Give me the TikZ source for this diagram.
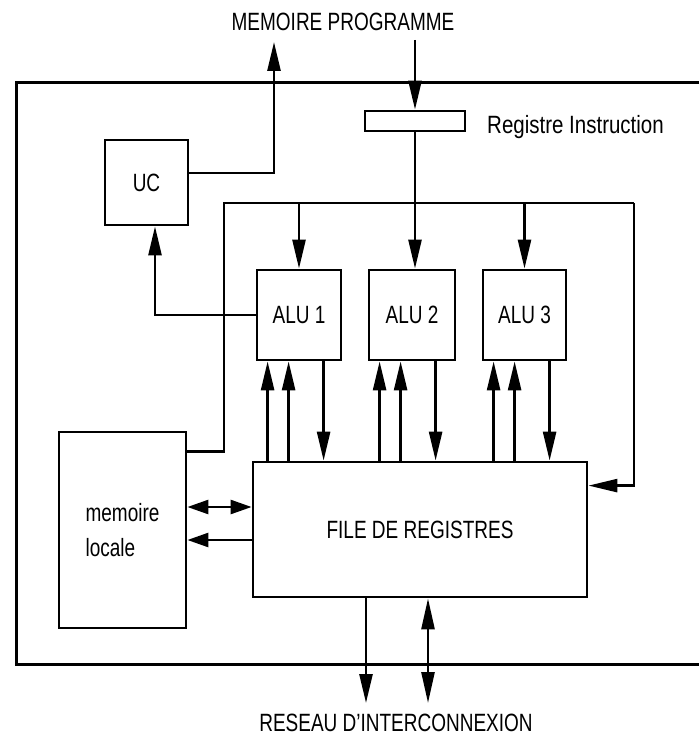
\documentclass[tikz,border=0pt]{standalone}
\usepackage{fontspec}
\setmainfont{Liberation Sans}[FakeStretch=0.76]
\newfontfamily\rifont{Liberation Sans}[FakeStretch=0.82]
\usetikzlibrary{arrows.meta,calc}
\begin{document}
\begin{tikzpicture}[x=1pt,y=-1pt,
  every node/.style={font=\fontsize{25}{35}\selectfont, inner sep=0pt},
  box/.style={draw, line width=2.8pt},
  frame/.style={line width=3pt},
  wire/.style={line width=2.6pt},
  arr/.style={wire, -{Triangle[length=29pt,width=13pt]}},
  darr/.style={wire, {Triangle[length=31pt,width=13pt]}-{Triangle[length=31pt,width=13pt]}},
  harr/.style={wire, -{Triangle[length=21pt,width=14pt]}},
  hdarr/.style={wire, {Triangle[length=21pt,width=14pt]}-{Triangle[length=21pt,width=14pt]}}]
\useasboundingbox (0,0) rectangle (699,738);
% open frame
\draw[frame] (699,83) -- (16,83) -- (16,664) -- (699,664);
% boxes
\node[box, minimum width=83pt, minimum height=85pt] (UC) at (146.5,182.5) {UC};
\node[box, minimum width=100pt, minimum height=20pt] (RI) at (415,121) {};
\node[anchor=west, font=\fontsize{25}{35}\rifont] (RIl) at (487,127) {Registre Instruction};
\node (MP) at (343,22) {MEMOIRE PROGRAMME};
\node[box, minimum width=84pt, minimum height=90pt] (ALU1) at (299,315) {ALU 1};
\node[box, minimum width=86pt, minimum height=90pt] (ALU2) at (412,315) {ALU 2};
\node[box, minimum width=83pt, minimum height=90pt] (ALU3) at (524.5,315) {ALU 3};
\node[box, minimum width=334pt, minimum height=135pt] (FR) at (420,529.5) {FILE DE REGISTRES};
\node[box, minimum width=127pt, minimum height=196pt, align=left] (ML) at (122.5,530) {memoire\\locale};
\node (RS) at (396,723) {RESEAU D'INTERCONNEXION};
% coordinates
\coordinate (mpA) at (274,42);
\coordinate (mpB) at (415,40);
\coordinate (busL) at (224,203);
\coordinate (busR) at (634,203);
\coordinate (netA) at (366,703);
\coordinate (netB) at (428,703);
% program memory links
\draw[arr] ($(UC.east)+(0,-9.5)$) -| (mpA);
\draw[arr] (mpB) -- (RI.north);
\draw[arr] (RI.south) -- (RI.south |- ALU2.north);
% control bus
\draw[wire] ($(ML.north east)+(0,21)$) -| (busL) -- (busR);
\draw[arr] (busR) |- ($(FR.north east)+(0,25)$);
\draw[arr] (ALU1.north |- busL) -- (ALU1.north);
\draw[arr] (ALU3.north |- busL) -- (ALU3.north);
% ALU1 to UC
\draw[arr] (ALU1.west) -| ($(UC.south)+(8.5,0)$);
% ALU <-> register file
\foreach \a in {ALU1,ALU2,ALU3}{
  \coordinate (\a-u1) at ($(\a.south west)+(12,0)$);
  \coordinate (\a-u2) at ($(\a.south west)+(33,0)$);
  \coordinate (\a-d) at ($(\a.south west)+(68,0)$);
  \draw[arr] (\a-u1 |- FR.north) -- (\a-u1);
  \draw[arr] (\a-u2 |- FR.north) -- (\a-u2);
  \draw[arr] (\a-d) -- (\a-d |- FR.north);
}
% local memory links
\draw[hdarr] ($(ML.east)+(0,-23)$) -- ($(FR.west)+(0,-22.5)$);
\draw[harr] ($(FR.west)+(0,10.5)$) -- ($(ML.east)+(0,10)$);
% network
\draw[arr] (netA |- FR.south) -- (netA);
\draw[darr] (netB |- FR.south) -- (netB);
\end{tikzpicture}
\end{document}
